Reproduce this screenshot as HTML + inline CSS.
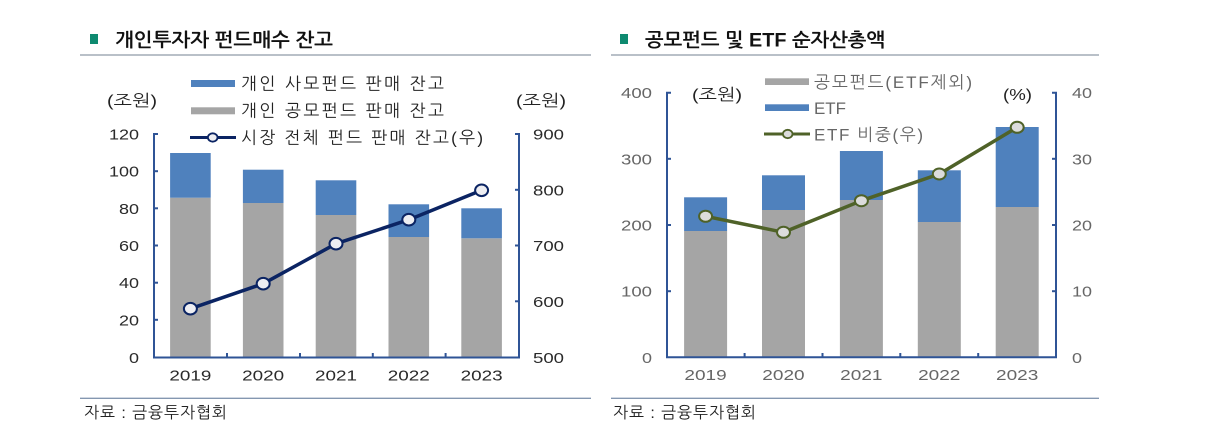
<!DOCTYPE html>
<html><head><meta charset="utf-8"><style>
html,body{margin:0;padding:0;background:#fff;}
svg{display:block;}
text{font-family:"Liberation Sans","NanumGothic","Noto Sans CJK KR",sans-serif;}
.n{font-family:"DejaVu Sans","Liberation Sans",sans-serif;}
</style></head><body>
<svg width="1230" height="443" viewBox="0 0 1230 443" xmlns="http://www.w3.org/2000/svg">
<rect width="1230" height="443" fill="#fff"/>
<!-- Titles -->
<rect x="90" y="34" width="8" height="10" fill="#0e8a70"/>
<text x="115" y="46.5" font-size="19" font-weight="bold" fill="#111" textLength="218" lengthAdjust="spacingAndGlyphs">개인투자자 펀드매수 잔고</text>
<line x1="80" y1="55" x2="591" y2="55" stroke="#8f9ba6" stroke-width="1.3"/>
<rect x="620" y="34" width="8" height="10" fill="#0e8a70"/>
<text x="645" y="46.5" font-size="19" font-weight="bold" fill="#111" textLength="240" lengthAdjust="spacingAndGlyphs">공모펀드 및 ETF 순자산총액</text>
<line x1="611" y1="55" x2="1099" y2="55" stroke="#8f9ba6" stroke-width="1.3"/>

<!-- ============ LEFT CHART ============ -->
<g>
<rect x="170.1" y="197.7" width="40.6" height="159.6" fill="#a5a5a5"/>
<rect x="170.1" y="153" width="40.6" height="44.7" fill="#4f81bd"/>
<rect x="242.9" y="203" width="40.6" height="154.3" fill="#a5a5a5"/>
<rect x="242.9" y="169.7" width="40.6" height="33.3" fill="#4f81bd"/>
<rect x="315.7" y="215" width="40.6" height="142.3" fill="#a5a5a5"/>
<rect x="315.7" y="180.3" width="40.6" height="34.7" fill="#4f81bd"/>
<rect x="388.5" y="237" width="40.6" height="120.3" fill="#a5a5a5"/>
<rect x="388.5" y="204.3" width="40.6" height="32.7" fill="#4f81bd"/>
<rect x="461.3" y="238.3" width="40.6" height="119" fill="#a5a5a5"/>
<rect x="461.3" y="208.3" width="40.6" height="30" fill="#4f81bd"/>
<g stroke="#2f5496" stroke-width="2" fill="none">
<polyline points="158,134 154,134 154,357.5 519,357.5 519,134 515,134"/>
<line x1="154" y1="171.2" x2="158" y2="171.2"/>
<line x1="154" y1="208.3" x2="158" y2="208.3"/>
<line x1="154" y1="245.5" x2="158" y2="245.5"/>
<line x1="154" y1="282.7" x2="158" y2="282.7"/>
<line x1="154" y1="319.8" x2="158" y2="319.8"/>
<line x1="519" y1="189.8" x2="515" y2="189.8"/>
<line x1="519" y1="245.5" x2="515" y2="245.5"/>
<line x1="519" y1="301.3" x2="515" y2="301.3"/>
<line x1="227" y1="357.5" x2="227" y2="353"/>
<line x1="300" y1="357.5" x2="300" y2="353"/>
<line x1="372.8" y1="357.5" x2="372.8" y2="353"/>
<line x1="445.6" y1="357.5" x2="445.6" y2="353"/>
</g>
<polyline points="190.4,308.7 263.2,283.7 336,243.7 408.8,219.7 481.6,190.3" fill="none" stroke="#0b2463" stroke-width="3.5" stroke-linejoin="round"/>
<g fill="#eeeef2" stroke="#0b2463" stroke-width="2">
<ellipse cx="190.4" cy="308.7" rx="6.5" ry="5.8"/>
<ellipse cx="263.2" cy="283.7" rx="6.5" ry="5.8"/>
<ellipse cx="336" cy="243.7" rx="6.5" ry="5.8"/>
<ellipse cx="408.8" cy="219.7" rx="6.5" ry="5.8"/>
<ellipse cx="481.6" cy="190.3" rx="6.5" ry="5.8"/>
</g>
<g class="n" font-size="15" fill="#2a2a2a">
<text x="109" y="139.5" textLength="30" lengthAdjust="spacingAndGlyphs">120</text>
<text x="109" y="176.7" textLength="30" lengthAdjust="spacingAndGlyphs">100</text>
<text x="119" y="213.8" textLength="20" lengthAdjust="spacingAndGlyphs">80</text>
<text x="119" y="251" textLength="20" lengthAdjust="spacingAndGlyphs">60</text>
<text x="119" y="288.2" textLength="20" lengthAdjust="spacingAndGlyphs">40</text>
<text x="119" y="325.3" textLength="20" lengthAdjust="spacingAndGlyphs">20</text>
<text x="129" y="362.8" textLength="10" lengthAdjust="spacingAndGlyphs">0</text>
<text x="533" y="139.5" textLength="31" lengthAdjust="spacingAndGlyphs">900</text>
<text x="533" y="195.3" textLength="31" lengthAdjust="spacingAndGlyphs">800</text>
<text x="533" y="251" textLength="31" lengthAdjust="spacingAndGlyphs">700</text>
<text x="533" y="306.8" textLength="31" lengthAdjust="spacingAndGlyphs">600</text>
<text x="533" y="362.8" textLength="31" lengthAdjust="spacingAndGlyphs">500</text>
<text x="169.4" y="380.5" textLength="42" lengthAdjust="spacingAndGlyphs">2019</text>
<text x="242.2" y="380.5" textLength="42" lengthAdjust="spacingAndGlyphs">2020</text>
<text x="315" y="380.5" textLength="42" lengthAdjust="spacingAndGlyphs">2021</text>
<text x="387.8" y="380.5" textLength="42" lengthAdjust="spacingAndGlyphs">2022</text>
<text x="460.6" y="380.5" textLength="42" lengthAdjust="spacingAndGlyphs">2023</text>
</g>
<g font-size="16" fill="#222">
<text x="107" y="106" textLength="50" lengthAdjust="spacingAndGlyphs">(조원)</text>
<text x="516" y="106" textLength="50" lengthAdjust="spacingAndGlyphs">(조원)</text>
</g>
<rect x="191" y="80" width="44" height="7" fill="#4f81bd"/>
<rect x="191" y="107.3" width="44" height="7" fill="#a5a5a5"/>
<line x1="190" y1="137.5" x2="236" y2="137.5" stroke="#0b2463" stroke-width="3"/>
<ellipse cx="212.7" cy="137.5" rx="4.8" ry="4.2" fill="#eeeef2" stroke="#0b2463" stroke-width="1.8"/>
<g font-size="17" fill="#222">
<text x="241" y="89.5" textLength="203" lengthAdjust="spacing">개인 사모펀드 판매 잔고</text>
<text x="241" y="116.5" textLength="203" lengthAdjust="spacing">개인 공모펀드 판매 잔고</text>
<text x="241" y="143.5" textLength="242" lengthAdjust="spacing">시장 전체 펀드 판매 잔고(우)</text>
</g>
<line x1="80" y1="398.3" x2="591" y2="398.3" stroke="#8497b0" stroke-width="1.3"/>
<text x="84" y="418" font-size="16" fill="#222" textLength="143" lengthAdjust="spacing">자료 : 금융투자협회</text>
</g>

<!-- ============ RIGHT CHART ============ -->
<g>
<rect x="684.1" y="231" width="43" height="126.3" fill="#a5a5a5"/>
<rect x="684.1" y="197.3" width="43" height="33.7" fill="#4f81bd"/>
<rect x="762" y="210" width="43" height="147.3" fill="#a5a5a5"/>
<rect x="762" y="175.3" width="43" height="34.7" fill="#4f81bd"/>
<rect x="839.9" y="200" width="43" height="157.3" fill="#a5a5a5"/>
<rect x="839.9" y="151" width="43" height="49" fill="#4f81bd"/>
<rect x="917.8" y="222" width="43" height="135.3" fill="#a5a5a5"/>
<rect x="917.8" y="170.3" width="43" height="51.7" fill="#4f81bd"/>
<rect x="995.7" y="207" width="43" height="150.3" fill="#a5a5a5"/>
<rect x="995.7" y="127" width="43" height="80" fill="#4f81bd"/>
<g stroke="#2f5496" stroke-width="2" fill="none">
<polyline points="671,92.7 667,92.7 667,357.3 1056,357.3 1056,92.7 1052,92.7"/>
<line x1="667" y1="158.8" x2="671" y2="158.8"/>
<line x1="667" y1="225" x2="671" y2="225"/>
<line x1="667" y1="291.2" x2="671" y2="291.2"/>
<line x1="1056" y1="158.8" x2="1052" y2="158.8"/>
<line x1="1056" y1="225" x2="1052" y2="225"/>
<line x1="1056" y1="291.2" x2="1052" y2="291.2"/>
<line x1="744.6" y1="357.3" x2="744.6" y2="353"/>
<line x1="822.5" y1="357.3" x2="822.5" y2="353"/>
<line x1="900.3" y1="357.3" x2="900.3" y2="353"/>
<line x1="978.2" y1="357.3" x2="978.2" y2="353"/>
</g>
<polyline points="705.6,216.3 783.5,232.3 861.4,200.7 939.3,174 1017.2,127.3" fill="none" stroke="#4f6228" stroke-width="3.5" stroke-linejoin="round"/>
<g fill="#dcdcdc" stroke="#4f6228" stroke-width="2">
<ellipse cx="705.6" cy="216.3" rx="6.5" ry="5.5"/>
<ellipse cx="783.5" cy="232.3" rx="6.5" ry="5.5"/>
<ellipse cx="861.4" cy="200.7" rx="6.5" ry="5.5"/>
<ellipse cx="939.3" cy="174" rx="6.5" ry="5.5"/>
<ellipse cx="1017.2" cy="127.3" rx="6.5" ry="5.5"/>
</g>
<g class="n" font-size="15" fill="#666">
<text x="621" y="98.2" textLength="31" lengthAdjust="spacingAndGlyphs">400</text>
<text x="621" y="164.3" textLength="31" lengthAdjust="spacingAndGlyphs">300</text>
<text x="621" y="230.5" textLength="31" lengthAdjust="spacingAndGlyphs">200</text>
<text x="621" y="296.7" textLength="31" lengthAdjust="spacingAndGlyphs">100</text>
<text x="642" y="362.8" textLength="10" lengthAdjust="spacingAndGlyphs">0</text>
<text x="1072" y="98.2" textLength="20" lengthAdjust="spacingAndGlyphs">40</text>
<text x="1072" y="164.3" textLength="20" lengthAdjust="spacingAndGlyphs">30</text>
<text x="1072" y="230.5" textLength="20" lengthAdjust="spacingAndGlyphs">20</text>
<text x="1072" y="296.7" textLength="20" lengthAdjust="spacingAndGlyphs">10</text>
<text x="1072" y="362.8" textLength="10" lengthAdjust="spacingAndGlyphs">0</text>
<text x="684.4" y="380" textLength="42.3" lengthAdjust="spacingAndGlyphs">2019</text>
<text x="762.3" y="380" textLength="42.3" lengthAdjust="spacingAndGlyphs">2020</text>
<text x="840.2" y="380" textLength="42.3" lengthAdjust="spacingAndGlyphs">2021</text>
<text x="918.1" y="380" textLength="42.3" lengthAdjust="spacingAndGlyphs">2022</text>
<text x="996" y="380" textLength="42.3" lengthAdjust="spacingAndGlyphs">2023</text>
</g>
<g font-size="16" fill="#222">
<text x="692" y="100" textLength="50" lengthAdjust="spacingAndGlyphs">(조원)</text>
<text x="1003" y="100" textLength="29" lengthAdjust="spacingAndGlyphs">(%)</text>
</g>
<rect x="765" y="78.3" width="44" height="6.7" fill="#a5a5a5"/>
<rect x="765" y="104.3" width="44" height="6.7" fill="#4f81bd"/>
<line x1="764" y1="134" x2="810" y2="134" stroke="#4f6228" stroke-width="3"/>
<ellipse cx="787.7" cy="134" rx="4.8" ry="4.2" fill="#dcdcdc" stroke="#4f6228" stroke-width="1.8"/>
<g font-size="17" fill="#666">
<text x="814" y="88" textLength="158" lengthAdjust="spacing">공모펀드(ETF제외)</text>
<text x="814" y="114" textLength="32" lengthAdjust="spacingAndGlyphs">ETF</text>
<text x="814" y="140.5" textLength="109" lengthAdjust="spacing">ETF 비중(우)</text>
</g>
<line x1="611" y1="398.3" x2="1099" y2="398.3" stroke="#8497b0" stroke-width="1.3"/>
<text x="613" y="418" font-size="16" fill="#222" textLength="143" lengthAdjust="spacing">자료 : 금융투자협회</text>
</g>
</svg>
</body></html>
